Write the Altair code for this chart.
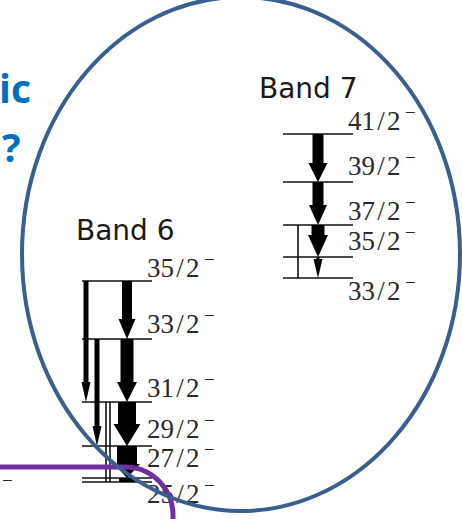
import altair as alt
import pandas as pd

W, H = 462, 519

# ---- level scheme: two rotational bands -------------------------------------
band_names = ["Band 7", "Band 6"]
band_name_x = [259, 76]
band_name_y = [98, 240]
band_left = {"Band 7": 283, "Band 6": 82}
band_right = {"Band 7": 353, "Band 6": 152}
band_label_x = {"Band 7": 348, "Band 6": 147}

level_band = ["Band 7", "Band 7", "Band 7", "Band 7", "Band 7",
              "Band 6", "Band 6", "Band 6", "Band 6", "Band 6", "Band 6"]
level_spin = ["41/2", "39/2", "37/2", "35/2", "33/2",
              "35/2", "33/2", "31/2", "29/2", "27/2", "25/2"]
level_pos = [134, 182, 225, 257, 278, 281, 339, 402, 446, 478, 482]
label_pos = [130, 175, 220, 250, 300, 277, 333, 397, 438, 467, 503]

# gamma transitions: column, start level, end level, shaft width, head width/length
gam_x = [318, 318, 318, 318, 298, 127, 127, 127, 127, 127, 86, 97, 106, 110]
gam_from = [134, 182, 225, 257, 225, 281, 339, 402, 446, 478, 281, 339, 402, 402]
gam_to = [182, 225, 257, 278, 278, 339, 402, 446, 478, 482, 402, 446, 482, 482]
gam_shaft = [11, 11, 13, 3, 1.5, 10, 13, 18, 20, 16, 5, 5, 1.5, 1.5]
gam_head_w = [19, 18, 20, 9, 0, 17, 20, 27, 26, 0, 9, 9, 0, 0]
gam_head_len = [19, 20, 22, 19, 0, 20, 20, 22, 14, 0, 20, 20, 0, 0]

# ---- slide overlays ------------------------------------------------------------
ring_center = [(241, 254)]
ring_half_w, ring_half_h = 219, 257
frame_x = [-60, 173]
frame_y = [467, 640]
title_bits = ["ic", "?"]
title_x = [-1, 2]
title_y = [103, 162]
stray_minus = [(2, 487)]

SERIF = "Liberation Serif"

# ------------------------------------------------------------------------------
xs = alt.Scale(domain=[0, W], range=[0, W], nice=False, zero=False)
ys = alt.Scale(domain=[0, H], range=[0, H], nice=False, zero=False)


def X(f):
    return alt.X(f, scale=xs, axis=None)


def Y(f):
    return alt.Y(f, scale=ys, axis=None)


levels = pd.DataFrame({"band": level_band, "spin": level_spin,
                       "pos": level_pos, "lab": label_pos})
levels["x0"] = levels["band"].map(band_left)
levels["x1"] = levels["band"].map(band_right)
levels["lx"] = levels["band"].map(band_label_x)
levels["spin_txt"] = levels["spin"].str.replace("/", "\u200a/\u200a")

gam = pd.DataFrame({"x": gam_x, "y0": gam_from, "y1": gam_to, "shaft": gam_shaft,
                    "hw": gam_head_w, "hl": gam_head_len})
gam["shaft_end"] = gam["y1"] - gam["hl"] + (gam["hl"] > 0) * 1.0
heads = gam[gam["hw"] > 0].copy()
heads["path"] = heads.apply(
    lambda r: "M-1,{k:.3f} L1,{k:.3f} L0,0 Z".format(k=-r["hl"] / (r["hw"] / 2)), axis=1)
heads["hsize"] = heads["hw"] ** 2

level_lines = alt.Chart(levels).mark_rule(color="#111111", strokeWidth=1.7).encode(
    x=X("x0:Q"), x2="x1:Q", y=Y("pos:Q"))

shafts = alt.Chart(gam).mark_rule(color="#000000", strokeCap="butt").encode(
    x=X("x:Q"), y=Y("y0:Q"), y2="shaft_end:Q",
    strokeWidth=alt.StrokeWidth("shaft:Q", scale=None))

arrow_heads = alt.Chart(heads).mark_point(
    filled=True, color="#000000", opacity=1, strokeWidth=0).encode(
    x=X("x:Q"), y=Y("y1:Q"),
    shape=alt.Shape("path:N", scale=None),
    size=alt.Size("hsize:Q", scale=None))

spin_labels = alt.Chart(levels).mark_text(
    font=SERIF, fontSize=27, color="#2a2a2a",
    align="left", baseline="alphabetic").encode(
    x=X("lx:Q"), y=Y("lab:Q"), text="spin_txt:N")

parity = alt.Chart(levels).mark_text(
    text="\u2212", font=SERIF, fontSize=19, color="#2a2a2a",
    align="left", baseline="alphabetic", dx=57, dy=-11).encode(
    x=X("lx:Q"), y=Y("lab:Q"))

stray = alt.Chart(pd.DataFrame(stray_minus, columns=["x", "y"])).mark_text(
    text="\u2212", font=SERIF, fontSize=19, color="#2a2a2a",
    align="left", baseline="alphabetic").encode(x=X("x:Q"), y=Y("y:Q"))

band_titles = alt.Chart(pd.DataFrame({"t": band_names, "x": band_name_x, "y": band_name_y})).mark_text(
    font="DejaVu Sans", fontSize=28, color="#1a1a1a",
    align="left", baseline="alphabetic").encode(x=X("x:Q"), y=Y("y:Q"), text="t:N")

title_text = alt.Chart(pd.DataFrame({"t": title_bits, "x": title_x, "y": title_y})).mark_text(
    font="Open Sans", fontWeight="bold", fontSize=39, color="#0070C0",
    align="left", baseline="alphabetic").encode(x=X("x:Q"), y=Y("y:Q"), text="t:N")

frame = alt.Chart(pd.DataFrame({"x0": [frame_x[0]], "x1": [frame_x[1]],
                                "y0": [frame_y[0]], "y1": [frame_y[1]]})).mark_rect(
    filled=False, color="#7030A0", strokeWidth=5, cornerRadius=48, clip=True).encode(
    x=X("x0:Q"), x2="x1:Q", y=Y("y0:Q"), y2="y1:Q")

# ellipse outline as a custom symbol built from four cubic segments
k = ring_half_h / ring_half_w
c = 0.5523
ellipse_path = (
    f"M1,0 C1,{c*k:.4f} {c:.4f},{k:.4f} 0,{k:.4f} "
    f"C{-c:.4f},{k:.4f} -1,{c*k:.4f} -1,0 "
    f"C-1,{-c*k:.4f} {-c:.4f},{-k:.4f} 0,{-k:.4f} "
    f"C{c:.4f},{-k:.4f} 1,{-c*k:.4f} 1,0 Z"
)
ring = alt.Chart(pd.DataFrame(ring_center, columns=["x", "y"])).mark_point(
    shape=ellipse_path, size=(2 * ring_half_w) ** 2, filled=False,
    color="#3A5F8E", strokeWidth=4, opacity=1, clip=True).encode(x=X("x:Q"), y=Y("y:Q"))

chart = alt.layer(
    level_lines, shafts, arrow_heads, spin_labels, parity, stray,
    band_titles, title_text, frame, ring
).properties(
    width=W, height=H, padding=0, autosize=alt.AutoSizeParams(type="none"),
    background="white"
).configure_view(stroke=None)

chart.save("out.html", embed_options={"renderer": "svg", "actions": False})
